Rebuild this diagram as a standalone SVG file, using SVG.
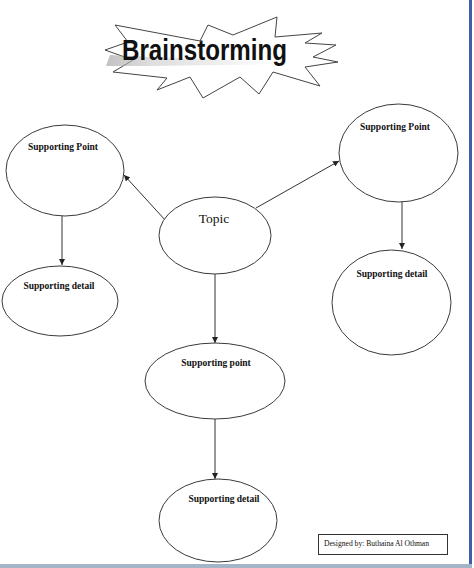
<svg xmlns="http://www.w3.org/2000/svg" width="474" height="568" viewBox="0 0 474 568">
<defs>
<marker id="ah" markerUnits="userSpaceOnUse" markerWidth="7" markerHeight="6" refX="6" refY="3" orient="auto">
<path d="M0,0 L6,3 L0,6 z" fill="#222"/>
</marker>
<linearGradient id="shd" x1="0" y1="0" x2="1" y2="0">
<stop offset="0" stop-color="#999"/>
<stop offset="0.25" stop-color="#c8c8c8"/>
<stop offset="1" stop-color="#ffffff"/>
</linearGradient>
</defs>
<style>
.node{fill:#fff;stroke:#3a3a3a;stroke-width:1}
.lbl{font-family:"Liberation Serif","Times New Roman",serif;font-weight:bold;font-size:9.5px;fill:#111;text-anchor:middle}
.conn line{stroke:#333;stroke-width:1;marker-end:url(#ah)}
</style>
<rect width="474" height="568" fill="#fff"/>
<rect x="469" y="0" width="3" height="568" fill="#3f5fa8"/>
<rect x="0" y="564" width="472" height="4" fill="#a3b5c7"/>

<g id="title">
<polygon points="115,25 200,41 208,25 233,35 277,17 275,37 322,33 305,43 336,45 313,57 338,62 305,67 320,86 273,72 259,94 240,77 203,98 190,77 157,90 167,78 113,72 133,60 105,50 128,42" fill="#fff" stroke="#444" stroke-width="1"/>
<polygon points="110,55 150,57 285,62 285,64 150,66 106,66" fill="url(#shd)" opacity="0.6"/>
<text x="122" y="60" font-family="'Liberation Sans',Arial,sans-serif" font-weight="bold" font-size="30" textLength="165" lengthAdjust="spacingAndGlyphs" fill="#111">Brainstorming</text>
</g>

<g class="conn" id="connectors">
<line x1="166" y1="221" x2="124" y2="175"/>
<line x1="256" y1="208" x2="339" y2="161"/>
<line x1="62" y1="216" x2="62" y2="265"/>
<line x1="402" y1="202" x2="402" y2="249"/>
<line x1="215" y1="274" x2="215" y2="343"/>
<line x1="215" y1="419" x2="215" y2="479"/>
</g>

<g id="topic">
<ellipse class="node" cx="215" cy="235.5" rx="56" ry="38.5"/>
<text x="214" y="223" font-family="'Liberation Serif','Times New Roman',serif" font-size="13.5" text-anchor="middle" fill="#111">Topic</text>
</g>
<g id="point-left">
<ellipse class="node" cx="65" cy="170.5" rx="59" ry="45.5"/>
<text class="lbl" x="63" y="150">Supporting Point</text>
</g>
<g id="detail-left">
<ellipse class="node" cx="60" cy="301" rx="58" ry="35"/>
<text class="lbl" x="59" y="289">Supporting detail</text>
</g>
<g id="point-right">
<ellipse class="node" cx="398.5" cy="153" rx="59.5" ry="49"/>
<text class="lbl" x="395" y="130">Supporting Point</text>
</g>
<g id="detail-right">
<ellipse class="node" cx="391.5" cy="302.5" rx="59.5" ry="52.5"/>
<text class="lbl" x="392" y="277">Supporting detail</text>
</g>
<g id="point-middle">
<ellipse class="node" cx="215" cy="381" rx="70" ry="38"/>
<text class="lbl" x="216" y="366">Supporting point</text>
</g>
<g id="detail-bottom">
<ellipse class="node" cx="218" cy="520.5" rx="59" ry="41.5"/>
<text class="lbl" x="224" y="502" font-size="10.5">Supporting detail</text>
</g>
<g id="credit">
<rect x="318.5" y="534.5" width="129" height="20" fill="#fff" stroke="#333" stroke-width="1"/>
<text x="324" y="546" font-family="'Liberation Serif','Times New Roman',serif" font-size="7.6" fill="#111">Designed by: Buthaina Al Othman</text>
</g>
</svg>
